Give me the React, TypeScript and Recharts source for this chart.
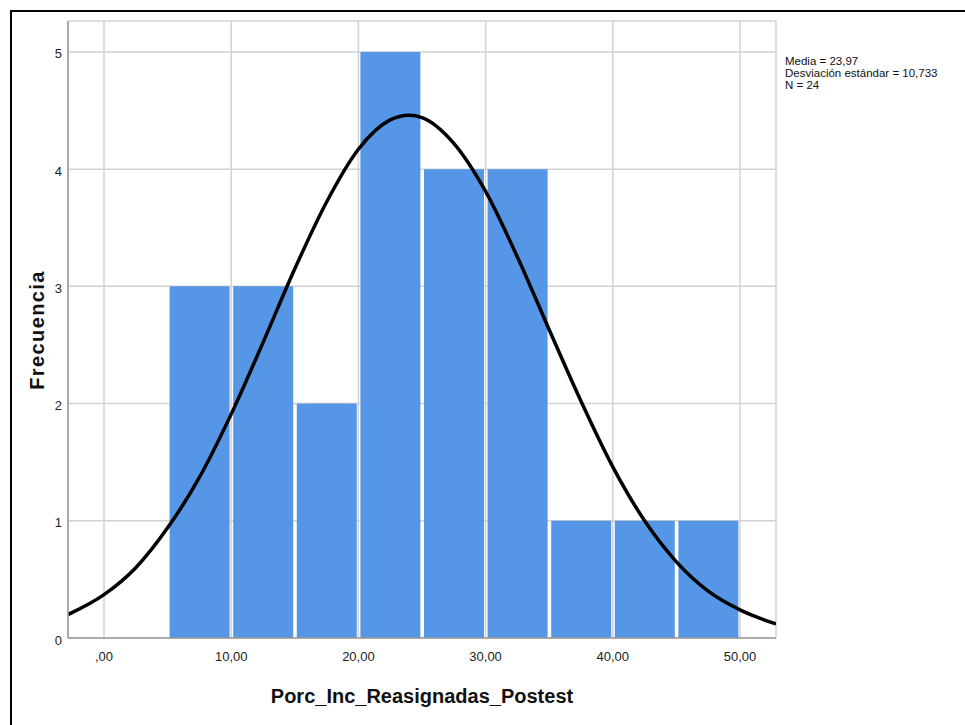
import React from 'react';
import { ComposedChart, Bar, Line, XAxis, YAxis, CartesianGrid } from 'recharts';

if (typeof document !== 'undefined') {
  document.body.style.margin = '0';
  document.body.style.overflow = 'hidden';
}

// Histogram bins (midpoints) and frequencies
const binMidpoints = [7.5, 12.5, 17.5, 22.5, 27.5, 32.5, 37.5, 42.5, 47.5];
const frequencies = [3, 3, 2, 5, 4, 4, 1, 1, 1];

// Normal curve
const curveX = [-2.83, 0, 2.5, 5, 7.5, 10, 12.5, 15, 17.5, 20, 22.5, 23.97, 25, 27.5, 30, 32.5, 35, 37.5, 40, 42.5, 45, 47.5, 50, 52.83];
const curveY = [0.2, 0.37, 0.6, 0.94, 1.37, 1.91, 2.52, 3.15, 3.72, 4.17, 4.42, 4.46, 4.44, 4.22, 3.81, 3.25, 2.63, 2.02, 1.46, 1.0, 0.65, 0.4, 0.24, 0.12];

const xTicks = [0, 10, 20, 30, 40, 50];
const xTickLabels = [',00', '10,00', '20,00', '30,00', '40,00', '50,00'];
const yTicks = [0, 1, 2, 3, 4, 5];
const yTickLabels = ['0', '1', '2', '3', '4', '5'];
const statsLines = ['Media = 23,97', 'Desviación estándar = 10,733', 'N = 24'];
const xTitle = 'Porc_Inc_Reasignadas_Postest';
const yTitle = 'Frecuencia';

const barData = binMidpoints.map((x, i) => ({ x, count: frequencies[i] }));
const curveData = curveX.map((x, i) => ({ x, y: curveY[i] }));

const FONT = '"Liberation Sans", Arial, sans-serif';
const X_DOMAIN: [number, number] = [-2.83, 52.83];

const XTick = (props: any) => {
  const { x, y, payload } = props;
  const idx = xTicks.indexOf(payload.value);
  return (
    <text x={x} y={y + 23} textAnchor="middle" fontSize={13} fill="#222" fontFamily={FONT}>
      {idx >= 0 ? xTickLabels[idx] : payload.value}
    </text>
  );
};

const YTick = (props: any) => {
  const { x, y, payload } = props;
  const idx = yTicks.indexOf(payload.value);
  return (
    <text x={x - 6} y={y + 6.5} textAnchor="end" fontSize={13} fill="#222" fontFamily={FONT}>
      {idx >= 0 ? yTickLabels[idx] : payload.value}
    </text>
  );
};

export default function App() {
  return (
    <div style={{ position: 'relative', width: 965, height: 725, overflow: 'hidden', background: '#fff' }}>
      <div
        style={{
          position: 'absolute',
          left: 10,
          top: 10,
          width: 2000,
          height: 2000,
          borderLeft: '2px solid #000',
          borderTop: '2px solid #000',
        }}
      />
      <div style={{ position: 'absolute', left: 0, top: 0 }}>
        <ComposedChart
          width={965}
          height={725}
          data={barData}
          margin={{ top: 21, right: 189, bottom: 57, left: 0 }}
          barCategoryGap={2}
        >
          <CartesianGrid xAxisId="bars" stroke="#d2d2d2" strokeWidth={1.5} vertical={true} horizontal={true} />
          <XAxis
            xAxisId="bars"
            dataKey="x"
            type="number"
            domain={X_DOMAIN}
            allowDataOverflow
            ticks={xTicks}
            tick={<XTick />}
            tickLine={false}
            tickSize={0}
            tickMargin={0}
            height={30}
            stroke="#9a9a9a"
            strokeWidth={1.5}
            interval={0}
          />
          <XAxis xAxisId="curve" dataKey="x" type="number" domain={X_DOMAIN} allowDataOverflow hide />
          <YAxis
            type="number"
            domain={[0, 5.264]}
            allowDataOverflow
            ticks={yTicks}
            tick={<YTick />}
            tickLine={false}
            tickSize={0}
            tickMargin={0}
            width={68}
            stroke="#9a9a9a"
            strokeWidth={1.5}
            interval={0}
          />
          <Bar xAxisId="bars" dataKey="count" fill="#5596E6" isAnimationActive={false} />
          <Line
            xAxisId="curve"
            data={curveData}
            dataKey="y"
            type="monotone"
            stroke="#000"
            strokeWidth={3.5}
            dot={false}
            activeDot={false}
            isAnimationActive={false}
          />
        </ComposedChart>
      </div>
      <svg
        width={965}
        height={725}
        style={{ position: 'absolute', left: 0, top: 0, pointerEvents: 'none' }}
      >
        <text x={422} y={703} textAnchor="middle" fontSize={20} fontWeight="bold" fill="#111" fontFamily={FONT}>
          {xTitle}
        </text>
        <text
          transform="translate(44,330) rotate(-90)"
          textAnchor="middle"
          fontSize={20}
          fontWeight="bold"
          fill="#111"
          letterSpacing={1.4}
          fontFamily={FONT}
        >
          {yTitle}
        </text>
        {statsLines.map((s, i) => (
          <text key={i} x={785} y={65 + i * 12} fontSize={11.5} fill="#111" fontFamily={FONT}>
            {s}
          </text>
        ))}
      </svg>
    </div>
  );
}
